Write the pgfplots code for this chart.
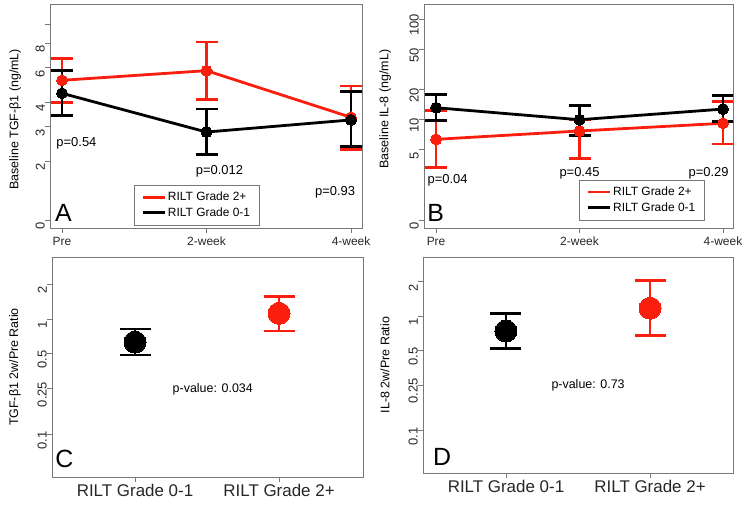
\documentclass[border=0pt]{standalone}
\usepackage{pgfplots}
\pgfplotsset{compat=1.18}
\usepackage{fontspec}
\setmainfont{Liberation Sans}
\definecolor{mred}{RGB}{250,30,15}
\definecolor{axgray}{RGB}{120,120,120}
\pgfplotsset{
  legend image code/.code={\draw[#1, mark=none] (0bp,0bp) -- (22bp,0bp);},
  every axis/.append style={
    scale only axis, yminorticks=false,
    axis line style={axgray, line width=0.8bp},
    tick style={axgray, line width=0.8bp},
    tick align=outside, major tick length=5bp,
    tick pos=left,
    tick label style={font=\fontsize{12}{12}\selectfont, black!85},
    yticklabel style={font=\fontsize{13}{13}\selectfont, rotate=90, anchor=south, inner sep=0pt, xshift=-6bp},
    xticklabel style={anchor=north, inner sep=0pt, yshift=-4bp},
    ylabel style={anchor=center, font=\fontsize{12.5}{12.5}\selectfont},
    legend style={draw=axgray, fill=white, font=\fontsize{12}{13.5}\selectfont, cells={anchor=west}, inner xsep=7bp, inner ysep=5bp, row sep=1.5bp},
  },
  redser/.style={mred, line width=2.8bp, mark=*, mark size=5.5bp, mark options={fill=mred, draw=mred, line width=0pt},
    error bars/y dir=both, error bars/y explicit, error bars/error bar style={line width=2.8bp, mred}, error bars/error mark options={rotate=90, line width=2.8bp, mark size=11bp, mred}},
  blkser/.style={black, line width=2.8bp, mark=*, mark size=5.5bp, mark options={fill=black, draw=black, line width=0pt},
    error bars/y dir=both, error bars/y explicit, error bars/error bar style={line width=2.8bp, black}, error bars/error mark options={rotate=90, line width=2.8bp, mark size=11bp, black}},
}
\pgfplotstableread{
x y ep em
1 5.16 1.52 1.17
2 5.78 2.32 1.65
3 3.34 1.49 1.05
}\Ared
\pgfplotstableread{
x y ep em
1 4.43 1.35 1.01
2 2.81 0.87 0.66
3 3.24 1.28 0.87
}\Ablack
\pgfplotstableread{
x y ep em
1 6.35 6.05 3.00
2 7.69 2.31 3.58
3 9.17 5.83 3.47
}\Bred
\pgfplotstableread{
x y ep em
1 13.1 4.7 3.37
2 9.95 3.95 3.05
3 12.7 4.6 3.2
}\Bblack
\begin{document}
\begin{tikzpicture}[x=1bp,y=1bp]
\path[use as bounding box] (0,0) rectangle (751,-505);
% ---------- Panel A
\begin{axis}[ymode=log, at={(50bp,-228bp)}, anchor=south west, width=312bp, height=224bp,
  xmin=0.917, xmax=3.076, ymin=0.910, ymax=12.65,
  xtick={1,2,3}, xticklabels={Pre,2-week,4-week},
  ytick={1,2,3,4,6,8,10}, yticklabels={0,2,3,4,6,8,{}},
  ylabel={Baseline TGF-β1 (ng/mL)}, ylabel style={at={(axis description cs:-0.112,0.485)}},
  legend style={at={(axis description cs:0.269,0.013)}, anchor=south west}]
\addplot[redser] table[x=x, y=y, y error plus=ep, y error minus=em] {\Ared};
\addlegendentry{RILT Grade 2+}
\addplot[blkser] table[x=x, y=y, y error plus=ep, y error minus=em] {\Ablack};
\addlegendentry{RILT Grade 0-1}
\node[font=\fontsize{13}{13}\selectfont] at (axis cs:1.10,2.47) {p=0.54};
\node[font=\fontsize{13}{13}\selectfont] at (axis cs:2.09,1.78) {p=0.012};
\node[font=\fontsize{13}{13}\selectfont] at (axis cs:2.89,1.39) {p=0.93};
\node[font=\fontsize{25}{25}\selectfont, anchor=south west, inner sep=0pt] at (axis description cs:0.016,0.027) {A};
\end{axis}
% ---------- Panel B
\begin{axis}[ymode=log, at={(424bp,-228bp)}, anchor=south west, width=309bp, height=224bp,
  xmin=0.916, xmax=3.07, ymin=0.833, ymax=141,
  xtick={1,2,3}, xticklabels={Pre,2-week,4-week},
  ytick={1,5,10,20,50,100}, yticklabels={0,5,10,20,50,100},
  ylabel={Baseline IL-8 (ng/mL)}, ylabel style={at={(axis description cs:-0.126,0.53)}},
  legend style={at={(axis description cs:0.502,0.036)}, anchor=south west}]
\addplot[redser] table[x=x, y=y, y error plus=ep, y error minus=em] {\Bred};
\addlegendentry{RILT Grade 2+}
\addplot[blkser] table[x=x, y=y, y error plus=ep, y error minus=em] {\Bblack};
\addlegendentry{RILT Grade 0-1}
\node[font=\fontsize{13}{13}\selectfont] at (axis cs:1.08,2.5) {p=0.04};
\node[font=\fontsize{13}{13}\selectfont] at (axis cs:2.0,2.94) {p=0.45};
\node[font=\fontsize{13}{13}\selectfont] at (axis cs:2.9,2.94) {p=0.29};
\node[font=\fontsize{25}{25}\selectfont, anchor=south west, inner sep=0pt] at (axis description cs:0.010,0.027) {B};
\end{axis}
% ---------- Panel C
\begin{axis}[ymode=log, at={(52bp,-477bp)}, anchor=south west, width=311bp, height=220bp,
  xmin=0.4236, xmax=2.583, ymin=0.0427, ymax=3.45,
  xtick={1,2}, xticklabels={RILT Grade 0-1,RILT Grade 2+},
  xticklabel style={font=\fontsize{17}{17}\selectfont, yshift=2bp},
  ytick={0.1,0.25,0.5,1,2}, yticklabels={0.1,0.25,0.5,1,2},
  ylabel={TGF-β1 2w/Pre Ratio}, ylabel style={at={(axis description cs:-0.119,0.5)}}]
\addplot[blkser, mark size=11bp, error bars/error mark options={rotate=90, line width=2.8bp, mark size=15.5bp, black}] table[x=x, y=y, y error plus=ep, y error minus=em] {
x y ep em
1 0.63 0.19 0.143
};
\addplot[redser, mark size=11bp, error bars/error mark options={rotate=90, line width=2.8bp, mark size=15.5bp, mred}] table[x=x, y=y, y error plus=ep, y error minus=em] {
x y ep em
2 1.12 0.44 0.333
};
\node[font=\fontsize{12.5}{12.5}\selectfont] at (axis cs:1.54,0.247) {p-value: 0.034};
\node[font=\fontsize{25}{25}\selectfont, anchor=south west, inner sep=0pt] at (axis description cs:0.010,0.041) {C};
\end{axis}
% ---------- Panel D
\begin{axis}[ymode=log, at={(423bp,-473bp)}, anchor=south west, width=310bp, height=216bp,
  xmin=0.424, xmax=2.576, ymin=0.0428, ymax=3.27,
  xtick={1,2}, xticklabels={RILT Grade 0-1,RILT Grade 2+},
  xticklabel style={font=\fontsize{17}{17}\selectfont, yshift=2bp},
  ytick={0.1,0.25,0.5,1,2}, yticklabels={0.1,0.25,0.5,1,2},
  ylabel={IL-8 2w/Pre Ratio}, ylabel style={at={(axis description cs:-0.1226,0.5)}}]
\addplot[blkser, mark size=11bp, error bars/error mark options={rotate=90, line width=2.8bp, mark size=15.5bp, black}] table[x=x, y=y, y error plus=ep, y error minus=em] {
x y ep em
1 0.74 0.315 0.22
};
\addplot[redser, mark size=11bp, error bars/error mark options={rotate=90, line width=2.8bp, mark size=15.5bp, mred}] table[x=x, y=y, y error plus=ep, y error minus=em] {
x y ep em
2 1.17 0.86 0.49
};
\node[font=\fontsize{12.5}{12.5}\selectfont] at (axis cs:1.57,0.25) {p-value: 0.73};
\node[font=\fontsize{25}{25}\selectfont, anchor=south west, inner sep=0pt] at (axis description cs:0.032,0.032) {D};
\end{axis}
\end{tikzpicture}
\end{document}
